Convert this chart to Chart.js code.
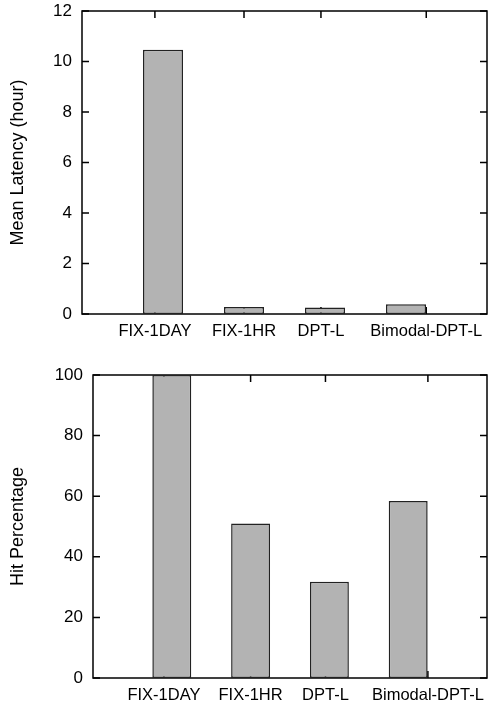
<!DOCTYPE html>
<html>
<head>
<meta charset="utf-8">
<script src="https://cdn.jsdelivr.net/npm/chart.js@4.4.1/dist/chart.umd.min.js"></script>
<style>
    body { margin: 0; background: #fff; }
    #wrap { position: relative; width: 489px; height: 709px; }
    canvas { position: absolute; left: 0; }
    #latencyChart { top: 0; }
    #hitChart { top: 345px; }
</style>
</head>
<body>
<div id="wrap">
    <canvas id="latencyChart" width="489" height="345"></canvas>
    <canvas id="hitChart" width="489" height="364"></canvas>
</div>
<script>
const categories = ['FIX-1DAY', 'FIX-1HR', 'DPT-L', 'Bimodal-DPT-L'];
// where gnuplot put the xtic labels (bars sit at 0,1,2,3)
const labelPositions = [-0.1, 1, 1.95, 3.25];

const latencyHours = [10.47, 0.28, 0.26, 0.39];
const hitPercent = [100, 51.0, 31.8, 58.4];

const latencyTicks = [0, 2, 4, 6, 8, 10, 12];
const hitTicks = [0, 20, 40, 60, 80, 100];

const FONT = "'Liberation Sans', Arial, sans-serif";
const TICK_LEN = 7;

// gnuplot style box with inward ticks on all four sides
const framePlugin = {
    id: 'frame',
    beforeDatasetsDraw(chart) {
        const { ctx, chartArea: a, scales } = chart;
        ctx.save();
        ctx.strokeStyle = '#000';
        ctx.lineWidth = 1.5;
        ctx.beginPath();
        scales.y.ticks.forEach((t) => {
            const py = scales.y.getPixelForValue(t.value);
            ctx.moveTo(a.left, py);
            ctx.lineTo(a.left + TICK_LEN, py);
            ctx.moveTo(a.right, py);
            ctx.lineTo(a.right - TICK_LEN, py);
        });
        scales.x.ticks.forEach((t) => {
            const px = scales.x.getPixelForValue(t.value);
            ctx.moveTo(px, a.top);
            ctx.lineTo(px, a.top + TICK_LEN);
            ctx.moveTo(px, a.bottom);
            ctx.lineTo(px, a.bottom - TICK_LEN);
        });
        ctx.stroke();
        ctx.strokeRect(a.left, a.top, a.right - a.left, a.bottom - a.top);
        ctx.restore();
    }
};

function makeChart(id, values, yTicks, yTitle, axisWidth, padTop) {
    const ctx = document.getElementById(id).getContext('2d');
    return new Chart(ctx, {
        type: 'bar',
        data: {
            datasets: [{
                data: values.map((v, i) => ({ x: i, y: v })),
                backgroundColor: '#b3b3b3',
                borderColor: '#222',
                borderWidth: 1.5,
                borderSkipped: false,
                categoryPercentage: 0.52, // min gap is between ticks 1 and 1.95
                barPercentage: 1
            }]
        },
        options: {
            responsive: false,
            animation: false,
            devicePixelRatio: 1,
            layout: { padding: { top: padTop, right: 2, left: 0, bottom: 0 } },
            plugins: { legend: { display: false }, tooltip: { enabled: false } },
            scales: {
                x: {
                    type: 'linear',
                    min: -1,
                    max: 4,
                    offset: false,
                    grid: { display: false, drawTicks: false },
                    border: { display: false },
                    afterBuildTicks: (axis) => {
                        axis.ticks = labelPositions.map((v) => ({ value: v }));
                    },
                    afterFit: (axis) => {
                        axis.height = 31;
                        axis.paddingLeft = 0;
                        axis.paddingRight = 0;
                    },
                    ticks: {
                        autoSkip: false,
                        maxRotation: 0,
                        padding: 8,
                        color: '#000',
                        font: { family: FONT, size: 16.5 },
                        callback: (value) => categories[labelPositions.indexOf(value)]
                    }
                },
                y: {
                    min: yTicks[0],
                    max: yTicks[yTicks.length - 1],
                    grid: { display: false, drawTicks: false },
                    border: { display: false },
                    afterBuildTicks: (axis) => {
                        axis.ticks = yTicks.map((v) => ({ value: v }));
                    },
                    afterFit: (axis) => {
                        axis.width = axisWidth;
                        axis.paddingTop = 0;
                        axis.paddingBottom = 0;
                    },
                    ticks: {
                        padding: 10,
                        color: '#000',
                        font: { family: FONT, size: 17 }
                    },
                    title: {
                        display: true,
                        text: yTitle,
                        color: '#000',
                        padding: { top: 7, bottom: 0 },
                        font: { family: FONT, size: 18 }
                    }
                }
            }
        },
        plugins: [framePlugin]
    });
}

makeChart('latencyChart', latencyHours, latencyTicks, 'Mean Latency (hour)', 82, 11);
makeChart('hitChart', hitPercent, hitTicks, 'Hit Percentage', 93, 30);
</script>
</body>
</html>
